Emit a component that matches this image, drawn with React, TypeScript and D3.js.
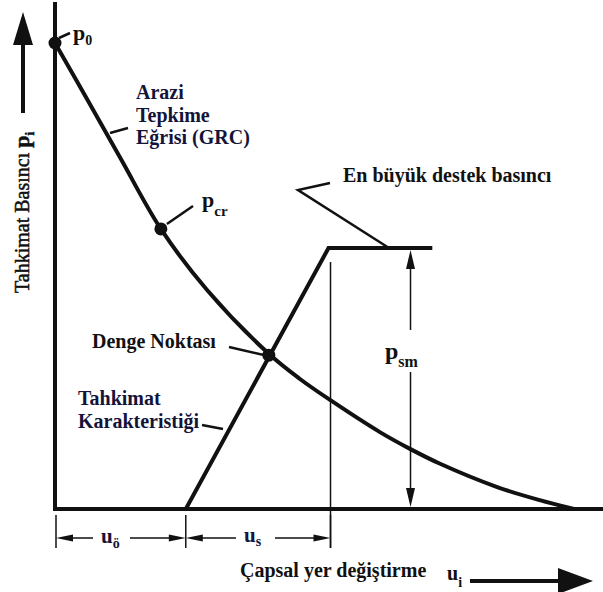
import React from "react";
import * as d3 from "d3";

// Ground reaction curve (GRC): radial displacement u vs support pressure p
const grcU = [0, 6, 12.7, 20.4, 29.3, 41.2, 47.2, 53.0, 62.6, 68.4, 74.2, 85.2, 93.4, 100];
const grcP = [100, 88.3, 75.1, 60.1, 47.0, 33.3, 27.9, 23.4, 16.5, 12.9, 9.7, 4.7, 1.9, 0];

// Support characteristic: installed at u_ö, yields at p_sm
const supportU = [25.2, 52.7, 72.7];
const supportP = [0, 56, 56];

// Marked points
const p0 = { u: 0, p: 100 };
const pCr = { u: 20.4, p: 60.1 };
const equilibrium = { u: 41.2, p: 33 };

// Dimension values
const uInstall = 25.2; // u_ö
const uSupportEnd = 52.7; // u_ö + u_s
const pSmU = 68.5; // where p_sm is dimensioned
const pSm = 56;

const W = 603;
const H = 592;
const FONT = "Liberation Serif, Times New Roman, serif";
const INK = "#111";
const NAVY = "#14143a";

export default function App() {
  const x = d3.scaleLinear().domain([0, 100]).range([55, 574]);
  const y = d3.scaleLinear().domain([0, 100]).range([509, 43]);

  const grc = grcU.map((u, i) => [u, grcP[i]] as [number, number]);
  const sup = supportU.map((u, i) => [u, supportP[i]] as [number, number]);

  const line = d3
    .line<[number, number]>()
    .x((d) => x(d[0]))
    .y((d) => y(d[1]));
  const curve = d3
    .line<[number, number]>()
    .x((d) => x(d[0]))
    .y((d) => y(d[1]))
    .curve(d3.curveCatmullRom.alpha(0.5));

  const x0 = x(0);
  const y0 = y(0);
  const xIn = x(uInstall);
  const xEnd = x(uSupportEnd);
  const xSm = x(pSmU);
  const ySm = y(pSm);

  const dimY = 538;

  // filled arrowhead pointing along (dx,dy) with its tip at (tx,ty)
  const head = (tx: number, ty: number, dx: number, dy: number, len: number, half: number) => {
    const bx = tx - dx * len;
    const by = ty - dy * len;
    const px = -dy * half;
    const py = dx * half;
    return `M${tx},${ty}L${bx + px},${by + py}L${bx - px},${by - py}Z`;
  };

  const bold = { fontWeight: 700, fontSize: 20 } as const;

  return (
    <div style={{ position: "absolute", left: 0, top: 0 }}>
      <svg
        width={W}
        height={H}
        viewBox={`0 0 ${W} ${H}`}
        fontFamily={FONT}
        style={{ display: "block", background: "#fff" }}
      >
        {/* axes */}
        <line x1={x0} y1={2} x2={x0} y2={y0 + 2} stroke={INK} strokeWidth={4} />
        <line x1={x0 - 2} y1={y0} x2={W} y2={y0} stroke={INK} strokeWidth={4} />

        {/* y axis title with arrow */}
        <line x1={23} y1={113} x2={23} y2={40} stroke={INK} strokeWidth={4} />
        <path d={head(23, 12, 0, -1, 33, 10)} fill={INK} />
        <text
          transform="translate(29,293) rotate(-90)"
          fontFamily={FONT}
          fontSize={20}
          fill={INK}
          stroke={INK}
          strokeWidth={0.5}
        >
          Tahkimat Basıncı{" "}
          <tspan fontWeight={700} fontSize={22}>p</tspan>
          <tspan fontWeight={700} fontSize={13} dy={5}>i</tspan>
        </text>

        {/* x axis title with arrow */}
        <text x={240} y={577} fontFamily={FONT} style={bold} fill={INK}>
          Çapsal yer değiştirme
        </text>
        <text x={447} y={580} fontFamily={FONT} style={bold} fill={INK}>
          u<tspan fontSize={14} dy={7}>i</tspan>
        </text>
        <line x1={470} y1={581} x2={565} y2={581} stroke={INK} strokeWidth={4} />
        <path d={head(593, 581, 1, 0, 35, 13)} fill={INK} />

        {/* ground reaction curve */}
        <path d={curve(grc) ?? ""} fill="none" stroke={INK} strokeWidth={4} strokeLinejoin="round" />

        {/* support characteristic */}
        <path d={line(sup) ?? ""} fill="none" stroke={INK} strokeWidth={4} strokeLinejoin="miter" />

        {/* thin guide at end of u_s */}
        <line x1={xEnd + 2} y1={ySm + 14} x2={xEnd + 2} y2={548} stroke={INK} strokeWidth={1.5} />

        {/* p_sm dimension */}
        <line x1={xSm} y1={ySm + 18} x2={xSm} y2={330} stroke={INK} strokeWidth={1.5} />
        <line x1={xSm} y1={372} x2={xSm} y2={y0 - 18} stroke={INK} strokeWidth={1.5} />
        <path d={head(xSm, ySm + 2, 0, -1, 19, 4.5)} fill={INK} />
        <path d={head(xSm, y0 - 2, 0, 1, 19, 4.5)} fill={INK} />
        <text x={385} y={359} fontFamily={FONT} style={{ ...bold, fontSize: 24 }} fill={INK}>
          p<tspan fontSize={16} dy={8}>sm</tspan>
        </text>

        {/* horizontal dimensions u_ö and u_s */}
        {[x0 + 1, xIn, xEnd + 2].map((xx, i) => (
          <line key={i} x1={xx} y1={515} x2={xx} y2={548} stroke={INK} strokeWidth={1.5} />
        ))}
        <line x1={x0 + 12} y1={dimY} x2={93} y2={dimY} stroke={INK} strokeWidth={1.5} />
        <path d={head(x0 + 1, dimY, -1, 0, 17, 3.5)} fill={INK} />
        <line x1={130} y1={dimY} x2={xIn - 12} y2={dimY} stroke={INK} strokeWidth={1.5} />
        <path d={head(xIn, dimY, 1, 0, 17, 3.5)} fill={INK} />
        <line x1={xIn + 12} y1={dimY} x2={236} y2={dimY} stroke={INK} strokeWidth={1.5} />
        <path d={head(xIn, dimY, -1, 0, 17, 3.5)} fill={INK} />
        <line x1={275} y1={dimY} x2={xEnd - 10} y2={dimY} stroke={INK} strokeWidth={1.5} />
        <path d={head(xEnd + 2, dimY, 1, 0, 17, 3.5)} fill={INK} />
        <text x={101} y={543} fontFamily={FONT} style={{ ...bold, fontSize: 21 }} fill={NAVY}>
          u<tspan fontSize={14} dy={5}>ö</tspan>
        </text>
        <text x={244} y={542} fontFamily={FONT} style={{ ...bold, fontSize: 21 }} fill={NAVY}>
          u<tspan fontSize={14} dy={4}>s</tspan>
        </text>

        {/* marked points */}
        {[p0, pCr, equilibrium].map((d, i) => (
          <circle key={i} cx={x(d.u)} cy={y(d.p)} r={6.5} fill={INK} />
        ))}

        {/* p0 label */}
        <line x1={x(p0.u) + 4} y1={y(p0.p) - 5} x2={70} y2={33} stroke={INK} strokeWidth={2.5} />
        <text x={73} y={40} fontFamily={FONT} style={{ ...bold, fontSize: 22 }} fill={INK}>
          p<tspan fontSize={14} dy={5}>0</tspan>
        </text>

        {/* GRC label */}
        <line x1={110} y1={133} x2={128} y2={128} stroke={INK} strokeWidth={2.5} />
        <text fontFamily={FONT} style={bold} fill={NAVY}>
          <tspan x={136} y={99}>Arazi</tspan>
          <tspan x={136} y={122}>Tepkime</tspan>
          <tspan x={136} y={144}>Eğrisi (GRC)</tspan>
        </text>

        {/* p_cr label */}
        <line x1={x(pCr.u) + 6} y1={y(pCr.p) - 5} x2={193} y2={206} stroke={INK} strokeWidth={2.5} />
        <text x={202} y={207} fontFamily={FONT} style={{ ...bold, fontSize: 22 }} fill={INK}>
          p<tspan fontSize={15} dy={9}>cr</tspan>
        </text>

        {/* maximum support pressure label */}
        <path d={`M330,183L298,190L389,${ySm}`} fill="none" stroke={INK} strokeWidth={2.5} />
        <text x={343} y={182} fontFamily={FONT} style={bold} fill={INK}>
          En büyük destek basıncı
        </text>

        {/* equilibrium label */}
        <line x1={229} y1={347} x2={x(equilibrium.u) - 4} y2={y(equilibrium.p)} stroke={INK} strokeWidth={2.5} />
        <text x={92} y={348} fontFamily={FONT} style={bold} fill={INK}>
          Denge Noktası
        </text>

        {/* support characteristic label */}
        <line x1={202} y1={425} x2={223} y2={429} stroke={INK} strokeWidth={2.5} />
        <text fontFamily={FONT} style={bold} fill={NAVY}>
          <tspan x={78} y={405}>Tahkimat</tspan>
          <tspan x={78} y={428}>Karakteristiği</tspan>
        </text>
      </svg>
    </div>
  );
}
